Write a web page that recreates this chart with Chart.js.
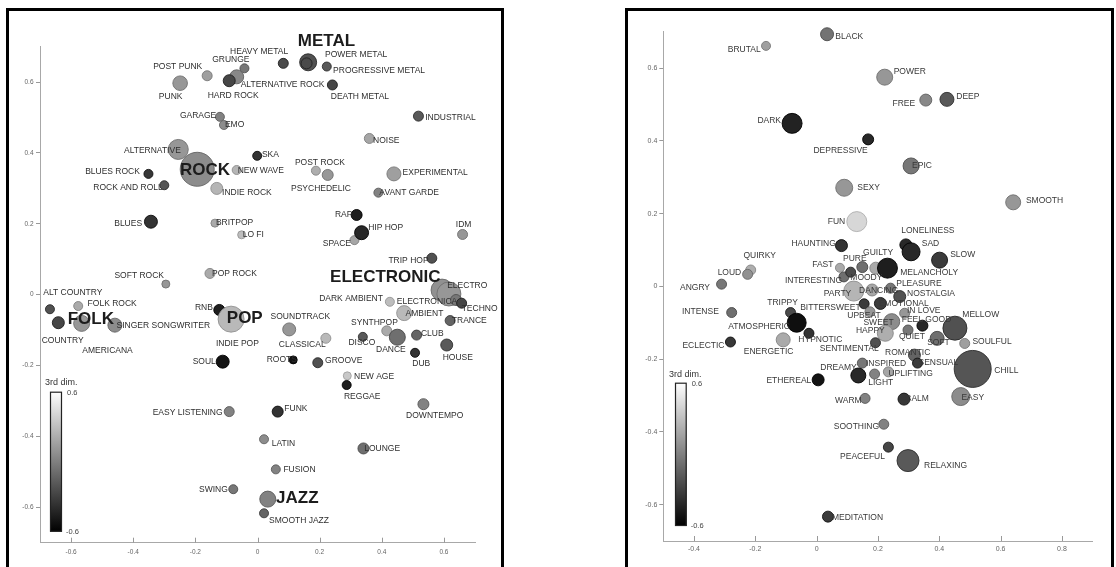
<!DOCTYPE html>
<html>
<head>
<meta charset="utf-8">
<script src="https://cdn.jsdelivr.net/npm/chart.js@4.4.0/dist/chart.umd.min.js"></script>
<style>
  html, body { margin: 0; padding: 0; background: #fff; }
  body { position: relative; width: 1116px; height: 567px; overflow: hidden; }
  .frame { position: absolute; border: 3px solid #000; box-sizing: border-box; }
  #frameL { left: 6px; top: 8px; width: 498px; height: 620px; }
  #frameR { left: 625px; top: 8px; width: 489px; height: 620px; }
  .wrap { position: absolute; }
  #wrapL { left: 8px; top: 10px; width: 494px; height: 557px; }
  #wrapR { left: 627px; top: 10px; width: 485px; height: 557px; }
</style>
</head>
<body>
<div class="frame" id="frameL"></div>
<div class="frame" id="frameR"></div>
<div class="wrap" id="wrapL"><canvas id="genres" width="494" height="557"></canvas></div>
<div class="wrap" id="wrapR"><canvas id="moods" width="485" height="557"></canvas></div>
<script>
// ---------- Genre tags (2-D embedding, 3rd dimension as grey level) ----------
const leftTags = ['PUNK','POST PUNK','GRUNGE','HEAVY METAL','ALTERNATIVE ROCK','HARD ROCK','METAL','POWER METAL',
  'PROGRESSIVE METAL','DEATH METAL','INDUSTRIAL','NOISE','GARAGE','EMO','ALTERNATIVE','ROCK','BLUES ROCK',
  'ROCK AND ROLL','NEW WAVE','SKA','INDIE ROCK','POST ROCK','PSYCHEDELIC','EXPERIMENTAL','AVANT GARDE','BLUES',
  'BRITPOP','LO FI','RAP','SPACE','HIP HOP','IDM','TRIP HOP','ELECTRONIC','ELECTRO','ELECTRONICA','DARK AMBIENT',
  'TECHNO','AMBIENT','TRANCE','SYNTHPOP','DANCE','CLUB','HOUSE','DUB','DISCO','CLASSICAL','SOUNDTRACK','ROOTS',
  'GROOVE','NEW AGE','REGGAE','DOWNTEMPO','FUNK','LATIN','LOUNGE','FUSION','JAZZ','SMOOTH JAZZ','EASY LISTENING',
  'SWING','SOUL','SOFT ROCK','POP ROCK','ALT COUNTRY','FOLK ROCK','AMERICANA','FOLK','COUNTRY','SINGER SONGWRITER',
  'RNB','INDIE POP','POP'];
const leftX = [-0.249,-0.162,-0.042,0.083,-0.067,-0.091,0.163,0.158,
  0.223,0.241,0.518,0.360,-0.121,-0.108,-0.255,-0.194,-0.351,
  -0.300,-0.067,-0.001,-0.131,0.188,0.226,0.439,0.389,-0.343,
  -0.137,-0.051,0.319,0.312,0.335,0.660,0.561,0.594,0.616,0.639,0.426,
  0.657,0.472,0.620,0.416,0.450,0.512,0.609,0.507,0.339,0.220,0.102,0.115,
  0.194,0.289,0.287,0.534,0.065,0.021,0.341,0.059,0.033,0.021,-0.091,
  -0.078,-0.112,-0.295,-0.153,-0.668,-0.577,-0.565,-0.566,-0.641,-0.459,
  -0.123,-0.076,-0.085];
const leftY = [0.597,0.618,0.639,0.653,0.615,0.604,0.656,0.653,
  0.644,0.592,0.504,0.441,0.502,0.479,0.410,0.354,0.341,
  0.309,0.352,0.392,0.300,0.350,0.338,0.341,0.288,0.206,
  0.202,0.169,0.225,0.154,0.175,0.170,0.103,0.013,0.002,-0.015,-0.020,
  -0.024,-0.052,-0.073,-0.102,-0.120,-0.114,-0.142,-0.164,-0.119,-0.123,-0.098,-0.184,
  -0.192,-0.229,-0.255,-0.309,-0.330,-0.408,-0.434,-0.493,-0.577,-0.617,-0.330,
  -0.549,-0.189,0.030,0.060,-0.041,-0.032,-0.086,-0.081,-0.079,-0.086,
  -0.043,-0.088,-0.069];
const leftThird = [0.11,0.15,-0.04,-0.25,0.04,-0.27,-0.22,-0.25,
  -0.18,-0.27,-0.18,0.18,0.01,0.06,0.11,0.06,-0.34,
  -0.20,0.25,-0.36,0.25,0.22,0.11,0.15,0.01,-0.36,
  0.20,0.29,-0.46,0.18,-0.41,0.11,-0.22,0.08,0.11,-0.04,0.29,
  -0.27,0.27,-0.13,0.20,-0.08,-0.13,-0.18,-0.36,-0.18,0.27,0.11,-0.51,
  -0.22,0.34,-0.46,0.01,-0.36,0.06,-0.08,0.01,0.01,-0.13,0.01,
  -0.04,-0.51,0.11,0.20,-0.22,0.20,0.06,0.11,-0.27,0.06,
  -0.46,0.20,0.27];
const leftWeight = [7.3,5,4.5,5,7,6,8.5,5.5,
  4.5,5,5,5,4.5,4.5,10,17,4.5,
  4.5,4.5,4.5,6,4.5,5.5,7,4.5,6.5,
  4,4,5.5,4.5,7,5,5,11,12,5.5,4.5,
  5,7.5,5,5,8,5,6,4.5,4.5,5,6.5,4,
  5,4,4.5,5.5,5.5,4.5,5.5,4.5,8,4.5,5,
  4.5,6.5,4,5,4.5,4.5,4,8,6,7,
  5.5,4,13];
const leftMainGenres = ['METAL','ROCK','ELECTRONIC','POP','FOLK','JAZZ'];

// ---------- Mood tags ----------
const rightTags = ['BRUTAL','BLACK','DARK','DEPRESSIVE','SEXY','POWER','FREE','DEEP','EPIC','SMOOTH','FUN',
  'HAUNTING','QUIRKY','LOUD','ANGRY','INTENSE','ECLECTIC','ENERGETIC','TRIPPY','ATMOSPHERIC','HYPNOTIC','FAST',
  'INTERESTING','PURE','MOODY','GUILTY','MELANCHOLY','LONELINESS','SAD','SLOW','PARTY','DANCING','PLEASURE',
  'NOSTALGIA','BITTERSWEET','EMOTIONAL','UPBEAT','IN LOVE','SWEET','FEEL GOOD','QUIET','HAPPY','SOFT','MELLOW',
  'SOULFUL','SENTIMENTAL','ROMANTIC','SENSUAL','INSPIRED','UPLIFTING','CHILL','EASY','LIGHT','DREAMY','ETHEREAL',
  'WARM','CALM','SOOTHING','PEACEFUL','RELAXING','MEDITATION'];
const rightX = [-0.165,0.034,-0.080,0.168,0.090,0.222,0.356,0.425,0.308,0.641,0.131,
  0.081,-0.215,-0.225,-0.310,-0.277,-0.281,-0.109,-0.085,-0.065,-0.025,0.076,
  0.089,0.111,0.149,0.193,0.231,0.291,0.308,0.401,0.121,0.181,0.241,
  0.271,0.155,0.208,0.174,0.287,0.245,0.345,0.298,0.224,0.393,0.451,
  0.483,0.192,0.319,0.329,0.149,0.234,0.509,0.470,0.189,0.136,0.005,
  0.158,0.285,0.219,0.234,0.298,0.037];
const rightY = [0.661,0.693,0.448,0.404,0.271,0.575,0.512,0.514,0.331,0.231,0.178,
  0.112,0.045,0.033,0.006,-0.072,-0.153,-0.147,-0.072,-0.100,-0.129,0.051,
  0.026,0.039,0.053,0.050,0.050,0.114,0.095,0.072,-0.013,-0.010,-0.005,
  -0.028,-0.048,-0.047,-0.070,-0.074,-0.097,-0.108,-0.120,-0.129,-0.143,-0.115,
  -0.157,-0.155,-0.189,-0.211,-0.211,-0.235,-0.227,-0.303,-0.241,-0.245,-0.257,
  -0.308,-0.310,-0.379,-0.442,-0.479,-0.633];
const rightThird = [0.15,-0.06,-0.44,-0.41,0.11,0.11,0.04,-0.18,-0.04,0.11,0.41,
  -0.36,0.22,0.08,-0.04,-0.08,-0.34,0.20,-0.25,-0.53,-0.36,0.20,
  -0.08,-0.25,-0.08,0.20,-0.46,-0.41,-0.41,-0.32,0.25,0.18,-0.04,
  -0.22,-0.32,-0.32,0.11,0.11,0.06,-0.41,-0.04,0.22,-0.08,-0.22,
  0.15,-0.22,-0.13,-0.32,-0.04,0.18,-0.20,0.06,0.01,-0.41,-0.51,
  0.01,-0.34,0.01,-0.27,-0.18,-0.32];
const rightWeight = [4.5,6.5,10,5.5,8.5,8,6,7,8,7.5,10,
  6,5,5,5,5,5,7,5,9.5,5,4.5,
  5,5,5.5,6,10,6,9,8,10,6,5,
  6,5,6,5,5,8,5.5,5,8,7,12,
  5,5,6,5,5,5,18.5,9,5,7.5,6,
  5,6,5,5,11,5.5];

const leftXTicks = [-0.6, -0.4, -0.2, 0, 0.2, 0.4, 0.6];
const leftYTicks = [-0.6, -0.4, -0.2, 0, 0.2, 0.4, 0.6];
const rightXTicks = [-0.4, -0.2, 0, 0.2, 0.4, 0.6, 0.8];
const rightYTicks = [-0.6, -0.4, -0.2, 0, 0.2, 0.4, 0.6];
const colorbarTitle = '3rd dim.';
const colorbarTicks = [0.6, -0.6];

// ---------- label placement (pixel offsets from each bubble centre) ----------
const leftLabelOffsets = [[-21.3,13.4],[-54,-8.7],[-32.3,-8.3],[-53.3,-11.6],[4,8.3],[-21.6,15],[-10.3,-20.6],[18.5,-8.2],
  [6.3,4],[-1.6,11.7],[6.7,2],[3.7,1.7],[-40,-0.7],[1,-0.7],[-54.3,1.4],[-17.3,0.7],[-63.3,-2.3],
  [-71,2.4],[1,1],[4.7,-0.7],[5.3,4.7],[-21,-8.4],[-36.7,14],[8.7,-1.7],[1,-0.4],[-36.7,1.6],
  [1,0],[1,0],[-21.7,0],[-31.6,4],[6.6,-5.4],[-6.7,-10.3],[-43.4,2.7],[-112,-12.7],[-1.7,-8],[-59.3,1.7],[-70.7,-3.4],
  [0,5],[1.4,0.7],[1.7,0.3],[-35.7,-8],[-21.3,12],[4.3,-1],[-4,12.3],[-2.7,11.3],[-14.4,5.6],[-47,6],[-18.6,-12.6],[-26.6,-0.7],
  [7.3,-2],[6.7,0.7],[-2.7,11.7],[-17.3,11.4],[6.6,-2.7],[7.7,4],[0.7,0],[7.6,0],[8.3,-1],[5,7.4],[-76.6,0.6],
  [-34.3,0],[-30,0],[-51.4,-8],[2,0.4],[-6.7,-16.6],[9.4,-2],[0.3,25.7],[-14,-4],[-16.6,18.3],[1.7,0],
  [-24.3,-2.3],[-18,17.3],[-4.3,-1]];
const rightLabelOffsets = [[-38.3,3.3],[8.3,2.4],[-34.7,-2.6],[-54.7,11.4],[13,0],[9,-5.6],[-33.3,3.3],[9.3,-2.6],[1,0],[12.7,-1.3],[-29,0],
  [-50,-2.4],[-7.3,-14],[-30,-1.6],[-41.6,3.4],[-49.7,-1],[-48,3.7],[-39.4,12.3],[-23.3,-9.4],[-68.4,4],[-10.6,6],[-27.7,-3.4],
  [-59,4],[-7.7,-13.7],[-12,10.7],[-12.7,-15.7],[12.7,4],[-4.7,-14],[10.7,-7.7],[10.6,-6],[-30,2.3],[-13,1],[5.7,-4.7],
  [7.3,-2.4],[-64,3.7],[-1.7,0.7],[-22.7,4],[2.3,-2.3],[-28.3,1],[-20.7,-5.7],[-9,6.7],[-29.4,-2.3],[-10,4.4],[7.4,-13.3],
  [7.7,-2.3],[-55.7,5.6],[-29.4,-2.3],[1,-0.6],[3.7,0.3],[0,1.6],[21.6,1.7],[0.7,0.6],[-6.4,8.7],[-38,-8],[-51.7,0.7],
  [-30,2.4],[1.3,0],[-50,2.4],[-48.3,10],[16,5.3],[4,0.6]];

const FONT = '"Liberation Sans", Arial, Helvetica, sans-serif';

// grey colormap: -0.6 -> black, 0.6 -> white
function grey(t, darken) {
  const g = Math.max(0, Math.min(255, Math.round((t + 0.6) / 1.2 * 255) - (darken || 0)));
  return `rgb(${g},${g},${g})`;
}

const tagLabels = {
  id: 'tagLabels',
  afterDatasetsDraw(chart, args, o) {
    const ctx = chart.ctx;
    const meta = chart.getDatasetMeta(0);
    ctx.save();
    ctx.textBaseline = 'middle';
    ctx.textAlign = 'left';
    o.names.forEach((name, i) => {
      const el = meta.data[i];
      const big = o.big.includes(name);
      ctx.font = big ? `bold 17px ${FONT}` : `8.5px ${FONT}`;
      ctx.fillStyle = big ? '#1c1c1c' : o.color;
      ctx.fillText(name, el.x + o.offsets[i][0], el.y + o.offsets[i][1]);
    });
    ctx.restore();
  }
};

const axisDecor = {
  id: 'axisDecor',
  afterDraw(chart, args, o) {
    const ctx = chart.ctx;
    const xs = chart.scales.x;
    const bottom = chart.chartArea.bottom;
    ctx.save();
    // inward x tick marks
    ctx.strokeStyle = '#999';
    ctx.lineWidth = 1;
    xs.ticks.forEach(t => {
      const px = Math.round(xs.getPixelForValue(t.value)) + 0.5;
      ctx.beginPath(); ctx.moveTo(px, bottom); ctx.lineTo(px, bottom - o.tickIn); ctx.stroke();
    });
    // colour bar for the 3rd dimension
    const cb = o.bar;
    const grad = ctx.createLinearGradient(0, cb.top, 0, cb.top + cb.h);
    grad.addColorStop(0, grey(colorbarTicks[0]));
    grad.addColorStop(1, grey(colorbarTicks[1]));
    ctx.fillStyle = grad;
    ctx.fillRect(cb.left, cb.top, cb.w, cb.h);
    ctx.strokeStyle = '#222';
    ctx.lineWidth = 1.2;
    ctx.strokeRect(cb.left + 0.5, cb.top + 0.5, cb.w - 1, cb.h - 1);
    ctx.fillStyle = '#333';
    ctx.textBaseline = 'middle';
    ctx.textAlign = 'left';
    ctx.font = `9px ${FONT}`;
    ctx.fillText(colorbarTitle, cb.titleX, cb.titleY);
    ctx.font = `7.5px ${FONT}`;
    ctx.fillStyle = '#444';
    ctx.fillText(String(colorbarTicks[0]), cb.left + cb.w + cb.labelGap, cb.top + 1.5);
    ctx.fillText(String(colorbarTicks[1]), cb.left + cb.w + cb.labelGap - 1, cb.top + cb.h);
    ctx.restore();
  }
};

function makeChart(id, cfg) {
  const points = cfg.x.map((v, i) => ({ x: v, y: cfg.y[i], r: cfg.w[i] }));
  return new Chart(document.getElementById(id), {
    type: 'bubble',
    data: {
      datasets: [{
        data: points,
        backgroundColor: cfg.t.map(t => grey(t)),
        borderColor: cfg.t.map(t => grey(t, 40)),
        borderWidth: 0.9,
        clip: false
      }]
    },
    options: {
      responsive: false,
      maintainAspectRatio: false,
      animation: false,
      events: [],
      layout: { padding: cfg.padding },
      plugins: {
        legend: { display: false },
        tooltip: { enabled: false },
        tagLabels: { names: cfg.names, offsets: cfg.offsets, big: cfg.big, color: cfg.labelColor },
        axisDecor: { tickIn: 5, bar: cfg.bar }
      },
      scales: {
        x: {
          type: 'linear', min: cfg.xRange[0], max: cfg.xRange[1],
          afterBuildTicks: a => { a.ticks = cfg.xTicks.map(v => ({ value: v })); },
          afterFit: s => { s.height = cfg.xAxisH; },
          grid: { drawOnChartArea: false, drawTicks: false, color: '#999' },
          border: { display: true, color: '#a8a8a8', width: 1 },
          ticks: { callback: v => String(v), font: { family: FONT, size: cfg.tickSize }, color: '#666',
                   padding: cfg.xTickPad, maxRotation: 0, autoSkip: false }
        },
        y: {
          type: 'linear', min: -0.7, max: 0.7,
          afterBuildTicks: a => { a.ticks = cfg.yTicks.map(v => ({ value: v })); },
          afterFit: s => { s.width = cfg.yAxisW; },
          grid: { drawOnChartArea: false, drawTicks: true, tickLength: 4, color: '#999' },
          border: { display: true, color: '#a8a8a8', width: 1 },
          ticks: { callback: v => String(v), font: { family: FONT, size: cfg.tickSize }, color: '#666',
                   padding: cfg.yTickPad, autoSkip: false }
        }
      }
    },
    plugins: [tagLabels, axisDecor]
  });
}

makeChart('genres', {
  names: leftTags, x: leftX, y: leftY, t: leftThird, w: leftWeight,
  offsets: leftLabelOffsets, big: leftMainGenres, labelColor: '#2e2e2e',
  xRange: [-0.7, 0.7], xTicks: leftXTicks, yTicks: leftYTicks,
  padding: { top: 36.7, right: 27, left: 0, bottom: 0 },
  yAxisW: 32, xAxisH: 24.3, tickSize: 6.5, xTickPad: 5.5, yTickPad: 2.5,
  bar: { left: 42, top: 381.7, w: 12, h: 140, titleX: 37, titleY: 373, labelGap: 5 }
});

makeChart('moods', {
  names: rightTags, x: rightX, y: rightY, t: rightThird, w: rightWeight,
  offsets: rightLabelOffsets, big: [], labelColor: '#383838',
  xRange: [-0.5, 0.9], xTicks: rightXTicks, yTicks: rightYTicks,
  padding: { top: 21.7, right: 7, left: 0, bottom: 0 },
  yAxisW: 36.3, xAxisH: 26, tickSize: 7, xTickPad: 4, yTickPad: 2,
  bar: { left: 48, top: 372.7, w: 11.7, h: 143.3, titleX: 42, titleY: 365, labelGap: 5 }
});
</script>
</body>
</html>
